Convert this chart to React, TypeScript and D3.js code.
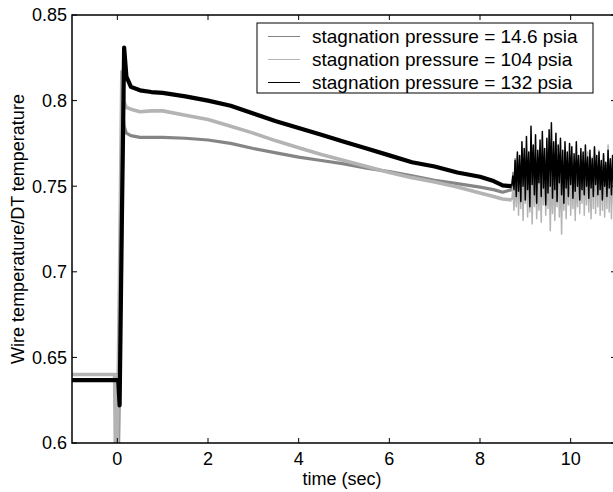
import React from 'react';
import * as d3 from 'd3';

// ---- Data ----
const seriesNames = [
  'stagnation pressure = 14.6 psia',
  'stagnation pressure = 104 psia',
  'stagnation pressure = 132 psia',
];

const xTicks = [0, 2, 4, 6, 8, 10];
const yTicks = [0.6, 0.65, 0.7, 0.75, 0.8, 0.85];
const yTickLabels = ['0.6', '0.65', '0.7', '0.75', '0.8', '0.85'];

// slowly varying part of the record (time in seconds)
const trendTime = [-1, -0.5, -0.06, -0.04, -0.02, 0, 0.02, 0.05, 0.1, 0.13, 0.15, 0.2, 0.3, 0.5, 0.75, 1, 1.5, 2, 2.5, 3, 3.5, 4, 4.5, 5, 5.5, 6, 6.5, 7, 7.5, 8, 8.3, 8.5, 8.7];
const trend146 = [0.64, 0.64, 0.64, 0.64, 0.64, 0.585, 0.585, 0.64, 0.735, 0.791, 0.785, 0.781, 0.7795, 0.7785, 0.7785, 0.7785, 0.778, 0.777, 0.775, 0.772, 0.7695, 0.767, 0.765, 0.763, 0.7605, 0.7585, 0.756, 0.7535, 0.7515, 0.7495, 0.748, 0.7465, 0.748];
const trend104 = [0.64, 0.64, 0.64, 0.585, 0.585, 0.585, 0.64, 0.7, 0.817, 0.805, 0.799, 0.796, 0.795, 0.7935, 0.794, 0.794, 0.7915, 0.789, 0.785, 0.781, 0.7765, 0.7725, 0.7685, 0.765, 0.7615, 0.758, 0.755, 0.7525, 0.7495, 0.746, 0.744, 0.7425, 0.742];
const trend132 = [0.6367, 0.6367, 0.6367, 0.6367, 0.6367, 0.6367, 0.6367, 0.622, 0.73, 0.79, 0.831, 0.814, 0.808, 0.806, 0.805, 0.8045, 0.8025, 0.8, 0.797, 0.7925, 0.788, 0.784, 0.78, 0.776, 0.772, 0.768, 0.764, 0.7615, 0.758, 0.7555, 0.753, 0.7505, 0.75];

// oscillating part of the record, sampled every 0.025 s from 8.7 s to 11 s
const noiseTime = d3.range(93).map((i) => 8.7 + i * 0.025);
const noise146 = [
  0.748, 0.758, 0.752, 0.766, 0.755, 0.768, 0.753, 0.764, 0.750, 0.763,
  0.752, 0.765, 0.749, 0.762, 0.751, 0.764, 0.748, 0.763, 0.752, 0.761,
  0.749, 0.764, 0.751, 0.760, 0.748, 0.763, 0.752, 0.761, 0.747, 0.762,
  0.750, 0.764, 0.749, 0.760, 0.751, 0.763, 0.748, 0.761, 0.750, 0.762,
  0.747, 0.760, 0.751, 0.763, 0.748, 0.759, 0.750, 0.762, 0.747, 0.760,
  0.749, 0.761, 0.748, 0.761, 0.750, 0.763, 0.747, 0.760, 0.751, 0.762,
  0.748, 0.759, 0.750, 0.763, 0.747, 0.761, 0.749, 0.762, 0.748, 0.760,
  0.751, 0.763, 0.747, 0.761, 0.749, 0.762, 0.748, 0.760, 0.750, 0.761,
  0.747, 0.759, 0.749, 0.762, 0.748, 0.760, 0.750, 0.761, 0.747, 0.759,
  0.749, 0.760, 0.748,
];
const noise104 = [
  0.742, 0.748, 0.736, 0.755, 0.738, 0.760, 0.733, 0.757, 0.737, 0.762,
  0.730, 0.756, 0.740, 0.765, 0.732, 0.758, 0.735, 0.767, 0.728, 0.759,
  0.738, 0.764, 0.731, 0.756, 0.736, 0.762, 0.729, 0.760, 0.739, 0.766,
  0.733, 0.757, 0.737, 0.763, 0.724, 0.758, 0.734, 0.761, 0.730, 0.755,
  0.738, 0.764, 0.732, 0.757, 0.722, 0.759, 0.736, 0.762, 0.731, 0.756,
  0.739, 0.765, 0.733, 0.758, 0.737, 0.763, 0.730, 0.757, 0.738, 0.766,
  0.734, 0.759, 0.740, 0.768, 0.733, 0.760, 0.739, 0.770, 0.735, 0.761,
  0.731, 0.767, 0.737, 0.772, 0.734, 0.762, 0.738, 0.771, 0.733, 0.764,
  0.736, 0.769, 0.732, 0.763, 0.737, 0.774, 0.735, 0.762, 0.731, 0.768,
  0.736, 0.765, 0.734,
];
const noise132 = [
  0.750, 0.756, 0.748, 0.765, 0.744, 0.770, 0.747, 0.768, 0.741, 0.776,
  0.750, 0.772, 0.742, 0.779, 0.748, 0.770, 0.738, 0.785, 0.751, 0.774,
  0.745, 0.780, 0.740, 0.771, 0.752, 0.777, 0.744, 0.782, 0.749, 0.772,
  0.739, 0.778, 0.746, 0.783, 0.750, 0.787, 0.743, 0.776, 0.748, 0.781,
  0.741, 0.774, 0.752, 0.778, 0.745, 0.771, 0.740, 0.776, 0.749, 0.770,
  0.744, 0.775, 0.751, 0.773, 0.743, 0.769, 0.747, 0.776, 0.750, 0.768,
  0.742, 0.772, 0.748, 0.770, 0.745, 0.774, 0.750, 0.767, 0.743, 0.771,
  0.749, 0.766, 0.744, 0.773, 0.751, 0.768, 0.745, 0.770, 0.748, 0.765,
  0.742, 0.769, 0.750, 0.764, 0.744, 0.771, 0.749, 0.766, 0.745, 0.768,
  0.750, 0.763, 0.747,
];

const colors = ['#858585', '#b4b4b4', '#000000'];

const W = 613;
const H = 492;
const M = { left: 72, right: 616, top: 15, bottom: 443 };
const FONT = 'Liberation Sans, Arial, Helvetica, sans-serif';

export default function App() {
  const x = d3.scaleLinear().domain([-1, 11]).range([M.left, M.right]);
  const y = d3.scaleLinear().domain([0.6, 0.85]).range([M.bottom, M.top]);
  const line = d3
    .line<[number, number]>()
    .x((d) => x(d[0]))
    .y((d) => y(d[1]));

  const trends = [trend146, trend104, trend132].map((vals) =>
    line(trendTime.map((t, i) => [t, vals[i]] as [number, number]))
  );
  const noises = [noise146, noise104, noise132].map((vals) =>
    line(noiseTime.map((t, i) => [t, vals[i]] as [number, number]))
  );
  const trendWidth = [3.2, 3.6, 4.2];

  const tickLen = 5;
  const legend = { x0: 257, x1: 593, y0: 23, y1: 93, rows: [36.5, 59.5, 82.5] };

  return (
    <svg
      width={W}
      height={H}
      style={{ position: 'absolute', left: 0, top: 0, background: '#fff' }}
      fontFamily={FONT}
    >
      <defs>
        <clipPath id="plotclip">
          <rect x={M.left} y={M.top} width={M.right - M.left} height={M.bottom - M.top} />
        </clipPath>
      </defs>
      <rect x={0} y={0} width={W} height={H} fill="#fff" />

      <g clipPath="url(#plotclip)" fill="none" strokeLinejoin="round">
        {[0, 1, 2].map((k) => (
          <g key={k}>
            <path d={trends[k] || ''} stroke={colors[k]} strokeWidth={trendWidth[k]} />
            <path d={noises[k] || ''} stroke={colors[k]} strokeWidth={1.5} />
          </g>
        ))}
      </g>

      {/* axes box */}
      <rect
        x={M.left}
        y={M.top}
        width={M.right - M.left}
        height={M.bottom - M.top}
        fill="none"
        stroke="#000"
        strokeWidth={1.5}
      />
      {xTicks.map((t) => (
        <g key={'xt' + t}>
          <line x1={x(t)} x2={x(t)} y1={M.bottom} y2={M.bottom - tickLen} stroke="#000" strokeWidth={1} />
          <line x1={x(t)} x2={x(t)} y1={M.top} y2={M.top + tickLen} stroke="#000" strokeWidth={1} />
          <text x={x(t)} y={M.bottom + 22} textAnchor="middle" fontSize={18} fill="#000">
            {String(t)}
          </text>
        </g>
      ))}
      {yTicks.map((t, i) => (
        <g key={'yt' + t}>
          <line x1={M.left} x2={M.left + tickLen} y1={y(t)} y2={y(t)} stroke="#000" strokeWidth={1} />
          <line x1={M.right} x2={M.right - tickLen} y1={y(t)} y2={y(t)} stroke="#000" strokeWidth={1} />
          <text x={M.left - 5} y={y(t)} dy="0.35em" textAnchor="end" fontSize={18} fill="#000">
            {yTickLabels[i]}
          </text>
        </g>
      ))}
      <text x={(M.left + 612) / 2} y={M.bottom + 42} textAnchor="middle" fontSize={18} fill="#000">
        time (sec)
      </text>
      <text
        transform={`translate(18, ${(M.top + M.bottom) / 2}) rotate(-90)`}
        textAnchor="middle"
        dy="0.35em"
        fontSize={18}
        fill="#000"
      >
        Wire temperature/DT temperature
      </text>

      {/* legend */}
      <rect
        x={legend.x0}
        y={legend.y0}
        width={legend.x1 - legend.x0}
        height={legend.y1 - legend.y0}
        fill="#fff"
        stroke="#000"
        strokeWidth={1}
      />
      {seriesNames.map((name, k) => (
        <g key={name}>
          <line x1={268} x2={300} y1={legend.rows[k]} y2={legend.rows[k]} stroke={colors[k]} strokeWidth={1} />
          <text x={312} y={legend.rows[k]} dy="0.35em" fontSize={19} fill="#000">
            {name}
          </text>
        </g>
      ))}
    </svg>
  );
}
